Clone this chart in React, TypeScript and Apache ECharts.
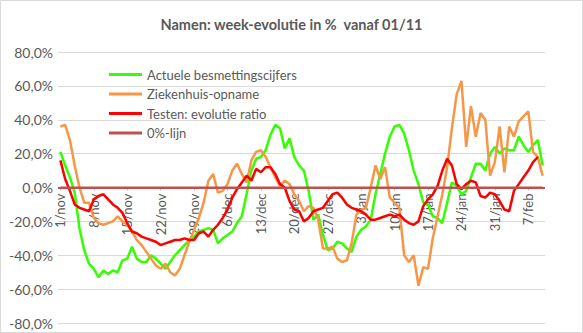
import React, { useEffect, useRef } from "react";
import * as echarts from "echarts";

const categories: string[] = [
  "1/nov","2/nov","3/nov","4/nov","5/nov","6/nov","7/nov","8/nov","9/nov","10/nov",
  "11/nov","12/nov","13/nov","14/nov","15/nov","16/nov","17/nov","18/nov","19/nov","20/nov",
  "21/nov","22/nov","23/nov","24/nov","25/nov","26/nov","27/nov","28/nov","29/nov","30/nov",
  "1/dec","2/dec","3/dec","4/dec","5/dec","6/dec","7/dec","8/dec","9/dec","10/dec",
  "11/dec","12/dec","13/dec","14/dec","15/dec","16/dec","17/dec","18/dec","19/dec","20/dec",
  "21/dec","22/dec","23/dec","24/dec","25/dec","26/dec","27/dec","28/dec","29/dec","30/dec","31/dec",
  "1/jan","2/jan","3/jan","4/jan","5/jan","6/jan","7/jan","8/jan","9/jan","10/jan",
  "11/jan","12/jan","13/jan","14/jan","15/jan","16/jan","17/jan","18/jan","19/jan","20/jan",
  "21/jan","22/jan","23/jan","24/jan","25/jan","26/jan","27/jan","28/jan","29/jan","30/jan","31/jan",
  "1/feb","2/feb","3/feb","4/feb","5/feb","6/feb","7/feb","8/feb","9/feb","10/feb",
];

const besmettingen: number[] = [
  21, 13, 6, -3, -24, -37, -45, -48, -53, -49,
  -51, -49, -50, -43, -42, -35, -42, -44, -44, -40,
  -42, -45, -48, -44, -40, -37, -34, -31, -29, -26,
  -25, -24, -25, -33, -30, -28, -26, -21, -17, -4,
  10, 17, 18, 22, 31, 37, 35, 23, 29, 18,
  13, 10, -2, -19, -16, -28, -37, -36, -32, -33,
  -36, -38, -29, -25, -23, -19, -4, 8, 20, 30,
  36, 37, 32, 22, 10, 2, -9, -10, -17, -18,
  -21, -9, 3, 1, -4, -2, 6, 14, 14, 10,
  20, 24, 20, 23, 22, 22, 30, 25, 21, 25,
  28, 13,
];

const ziekenhuis: number[] = [
  36, 37, 28, 13, 0, -9, -9, -18, -21, -22,
  -21, -20, -17, -20, -22, -26, -31, -34, -38, -42,
  -46, -48, -45, -50, -52, -48, -40, -32, -25, -18,
  -9, 4, 8, -3, -2, 2, 10, 14, 8, 3,
  16, 21, 22, 18, 12, 6, 1, 4, 2, -4,
  -8, -14, -11, -12, -19, -36, -36, -35, -42, -44,
  -43, -33, -16, -13, -12, 0, 13, 5, 12, -6,
  -9, -12, -40, -44, -40, -58, -47, -48, -30, -17,
  -4, 12, 35, 55, 63, 24, 48, 30, 44, 40,
  7, 15, 36, 9, 36, 30, 39, 42, 45, 21,
  18, 7,
];

const testen: (number | null)[] = [
  16, 5, -2, -10, -12, -13, -14, -7, -5, -4,
  -7, -10, -12, -15, -21, -26, -27, -29, -30, -31,
  -32, -34, -33, -32, -31, -31, -30, -31, -31, -27,
  -26, -29, -25, -22, -18, -13, -6, -1, 3, 7,
  4, 11, 9, 12, 12, 8, 2, 0, -8, -13,
  -14, -20, -18, -14, -13, -12, -8, -4, -3, -6,
  -10, -12, -13, -14, -16, -19, -19, -18, -17, -16,
  -17, -16, -19, -21, -22, -20, -11, -7, -4, 1,
  10, 17, 13, 2, -1, 2, 4, 3, -5, -6,
  -3, -4, -8, -13, -14, -2, 2, 6, 10, 15,
  18, null,
];

const nulLijn: number[] = categories.map(() => 0);

const seriesNames: string[] = [
  "Actuele besmettingscijfers",
  "Ziekenhuis-opname",
  "Testen: evolutie ratio",
  "0%-lijn",
];

const TEXT = "#595959";
const FONT = "Lato, 'Open Sans', sans-serif";

const GRID_TOP = 52;
const GRID_BOTTOM = 10;
const CHART_H = 333;

export default function App() {
  const ref = useRef<HTMLDivElement>(null);
  useEffect(() => {
    document.body.style.margin = "0";
    if (!ref.current) return;
    const chart = echarts.init(ref.current, null, { renderer: "svg" });
    const mk = (name: string, data: (number | null)[], color: string, width: number) => ({
      name,
      type: "line",
      data,
      symbol: "none",
      showSymbol: false,
      connectNulls: false,
      lineStyle: { color, width },
      itemStyle: { color },
    });
    const plotH = CHART_H - GRID_TOP - GRID_BOTTOM;
    const zero: any = mk(seriesNames[3], nulLijn, "#c0504d", 2);
    zero.markLine = {
      silent: true,
      symbol: "none",
      label: { show: false },
      lineStyle: { color: "#c0504d", width: 2, type: "solid" },
      data: [{ yAxis: 0 }],
    };
    chart.setOption({
      animation: false,
      textStyle: { fontFamily: FONT },
      title: {
        text: "Namen: week-evolutie in %  vanaf 01/11",
        left: "center",
        top: 12,
        textStyle: { fontSize: 14.5, fontWeight: "bold", color: TEXT, fontFamily: FONT },
      },
      legend: {
        orient: "vertical",
        left: 109,
        top: 68,
        padding: 0,
        icon: "rect",
        itemWidth: 33,
        itemHeight: 3,
        itemGap: 6.5,
        textStyle: { fontSize: 13, color: TEXT, fontFamily: FONT, lineHeight: 13 },
        data: seriesNames,
      },
      grid: {
        left: 58,
        right: 38,
        top: GRID_TOP,
        bottom: GRID_BOTTOM,
        containLabel: false,
        outerBoundsMode: "none",
      },
      xAxis: {
        type: "category",
        data: categories,
        boundaryGap: true,
        position: "bottom",
        offset: -plotH / 2,
        axisLine: { show: false, onZero: false },
        axisTick: {
          show: true,
          interval: 6,
          alignWithLabel: true,
          length: 3,
          lineStyle: { color: "#bfbfbf" },
        },
        axisLabel: {
          show: true,
          interval: 6,
          rotate: 90,
          margin: 6,
          fontSize: 13,
          color: TEXT,
          fontFamily: FONT,
          hideOverlap: false,
        },
        splitLine: { show: false },
      },
      yAxis: {
        type: "value",
        min: -80,
        max: 80,
        interval: 20,
        axisLine: { show: false },
        axisTick: { show: false },
        axisLabel: {
          margin: 5,
          fontSize: 14,
          color: TEXT,
          fontFamily: FONT,
          formatter: (v: number) => v.toFixed(1).replace(".", ",") + "%",
        },
        splitLine: { lineStyle: { color: "#d9d9d9", width: 1 } },
      },
      graphic: [
        {
          type: "rect",
          shape: { x: 0.5, y: 0.5, width: 582, height: 332 },
          style: { fill: "none", stroke: "#d9d9d9", lineWidth: 1 },
          silent: true,
        },
      ],
      series: [
        mk(seriesNames[0], besmettingen, "#33ff00", 2.5),
        mk(seriesNames[1], ziekenhuis, "#f79646", 2.5),
        mk(seriesNames[2], testen, "#ff0000", 2.5),
        zero,
      ],
    });
    return () => chart.dispose();
  }, []);
  return <div ref={ref} style={{ width: 583, height: 333 }} />;
}
